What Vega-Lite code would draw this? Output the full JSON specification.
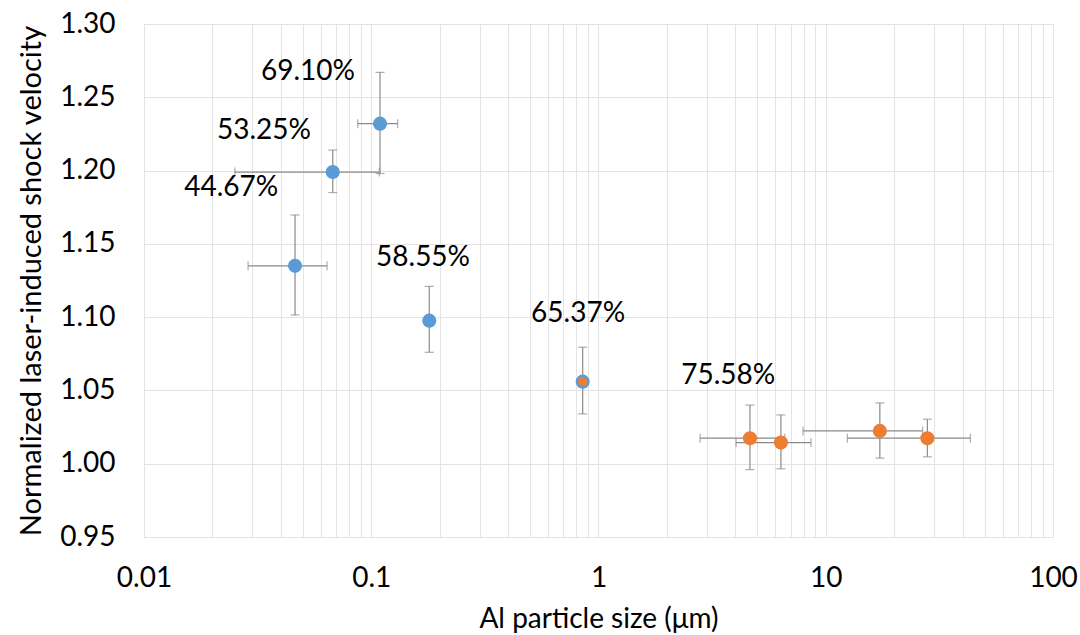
{
  "$schema": "https://vega.github.io/schema/vega-lite/v6.json",
  "width": 909,
  "height": 513,
  "autosize": {"type": "none"},
  "padding": {"left": 144, "top": 24, "right": 27, "bottom": 98},
  "background": "white",
  "config": {
    "view": {"stroke": "#d9d9d9"},
    "font": "Lato",
    "axis": {"labelFont": "Lato", "titleFont": "Lato", "labelColor": "#000000", "titleColor": "#000000", "titleFontWeight": "normal"}
  },
  "datasets": {
    "points": [
      {"series": "Nano", "x": 0.0462, "y": 1.135, "xlo": 0.0287, "xhi": 0.0639, "ylo": 1.1015, "yhi": 1.1697},
      {"series": "Nano", "x": 0.0677, "y": 1.199, "xlo": 0.0251, "xhi": 0.1085, "ylo": 1.185, "yhi": 1.214},
      {"series": "Nano", "x": 0.1093, "y": 1.232, "xlo": 0.0872, "xhi": 0.1307, "ylo": 1.198, "yhi": 1.267},
      {"series": "Nano", "x": 0.180, "y": 1.0976, "xlo": null, "xhi": null, "ylo": 1.076, "yhi": 1.121},
      {"series": "Both", "x": 0.852, "y": 1.056, "xlo": null, "xhi": null, "ylo": 1.034, "yhi": 1.0795},
      {"series": "Micro", "x": 4.64, "y": 1.0174, "xlo": 2.8, "xhi": 6.6, "ylo": 0.996, "yhi": 1.040},
      {"series": "Micro", "x": 6.35, "y": 1.0144, "xlo": 4.03, "xhi": 8.61, "ylo": 0.9965, "yhi": 1.0333},
      {"series": "Micro", "x": 17.3, "y": 1.0224, "xlo": 7.94, "xhi": 26.7, "ylo": 1.0038, "yhi": 1.0415},
      {"series": "Micro", "x": 28.0, "y": 1.0174, "xlo": 12.45, "xhi": 43.3, "ylo": 1.0047, "yhi": 1.0304}
    ],
    "labels": [
      {"text": "69.10%", "x": 0.0527, "y": 1.2673},
      {"text": "53.25%", "x": 0.0337, "y": 1.227},
      {"text": "44.67%", "x": 0.0242, "y": 1.188},
      {"text": "58.55%", "x": 0.169, "y": 1.1404},
      {"text": "65.37%", "x": 0.813, "y": 1.1022},
      {"text": "75.58%", "x": 3.72, "y": 1.06}
    ]
  },
  "data": {"name": "points"},
  "layer": [
    {
      "mark": {"type": "errorbar", "ticks": {"size": 9}, "color": "#8a8a8a", "thickness": 1.2},
      "encoding": {
        "x": {
          "field": "x", "type": "quantitative",
          "scale": {"type": "log", "domain": [0.01, 100]},
          "title": "Al particle size (μm)",
          "axis": {
            "values": [0.01,0.02,0.03,0.04,0.05,0.06,0.07,0.08,0.09,0.1,0.2,0.3,0.4,0.5,0.6,0.7,0.8,0.9,1,2,3,4,5,6,7,8,9,10,20,30,40,50,60,70,80,90,100],
            "labelExpr": "abs(log(datum.value)/LN10 - round(log(datum.value)/LN10)) < 0.001 ? format(datum.value, '~g') : ''",
            "grid": true, "gridColor": "#e4e4e4", "gridWidth": 1,
            "ticks": false, "domain": false,
            "labelFontSize": 28, "labelPadding": 27, "labelOverlap": false, "labelFlush": false,
            "titleFontSize": 28, "titlePadding": 13
          }
        },
        "y": {
          "field": "ylo", "type": "quantitative",
          "scale": {"domain": [0.95, 1.30], "zero": false, "nice": false},
          "title": "Normalized laser-induced shock velocity",
          "axis": {
            "values": [0.95,1.0,1.05,1.1,1.15,1.2,1.25,1.3],
            "format": ".2f",
            "grid": true, "gridColor": "#e4e4e4", "gridWidth": 1,
            "ticks": false, "domain": false,
            "labelFontSize": 28, "labelPadding": 29,
            "titleFontSize": 29, "titlePadding": 13
          }
        },
        "y2": {"field": "yhi"}
      }
    },
    {
      "transform": [{"filter": "datum.xlo != null"}],
      "mark": {"type": "errorbar", "ticks": {"size": 9}, "color": "#8a8a8a", "thickness": 1.2},
      "encoding": {
        "x": {"field": "xlo", "type": "quantitative", "title": "Al particle size (μm)"},
        "x2": {"field": "xhi"},
        "y": {"field": "y", "type": "quantitative", "title": "Normalized laser-induced shock velocity"}
      }
    },
    {
      "transform": [{"filter": "datum.series != 'Micro'"}],
      "mark": {"type": "circle", "size": 200, "opacity": 1, "color": "#5B9BD5"},
      "encoding": {
        "x": {"field": "x", "type": "quantitative", "title": "Al particle size (μm)"},
        "y": {"field": "y", "type": "quantitative", "title": "Normalized laser-induced shock velocity"}
      }
    },
    {
      "transform": [{"filter": "datum.series == 'Micro'"}],
      "mark": {"type": "circle", "size": 200, "opacity": 1, "color": "#ED7D31"},
      "encoding": {
        "x": {"field": "x", "type": "quantitative", "title": "Al particle size (μm)"},
        "y": {"field": "y", "type": "quantitative", "title": "Normalized laser-induced shock velocity"}
      }
    },
    {
      "transform": [{"filter": "datum.series == 'Both'"}],
      "mark": {"type": "circle", "size": 85, "opacity": 1, "color": "#ED7D31"},
      "encoding": {
        "x": {"field": "x", "type": "quantitative", "title": "Al particle size (μm)"},
        "y": {"field": "y", "type": "quantitative", "title": "Normalized laser-induced shock velocity"}
      }
    },
    {
      "data": {"name": "labels"},
      "mark": {"type": "text", "font": "Lato", "fontSize": 28, "color": "#000000", "align": "center", "baseline": "middle"},
      "encoding": {
        "x": {"field": "x", "type": "quantitative", "title": "Al particle size (μm)"},
        "y": {"field": "y", "type": "quantitative", "title": "Normalized laser-induced shock velocity"},
        "text": {"field": "text"}
      }
    }
  ]
}
